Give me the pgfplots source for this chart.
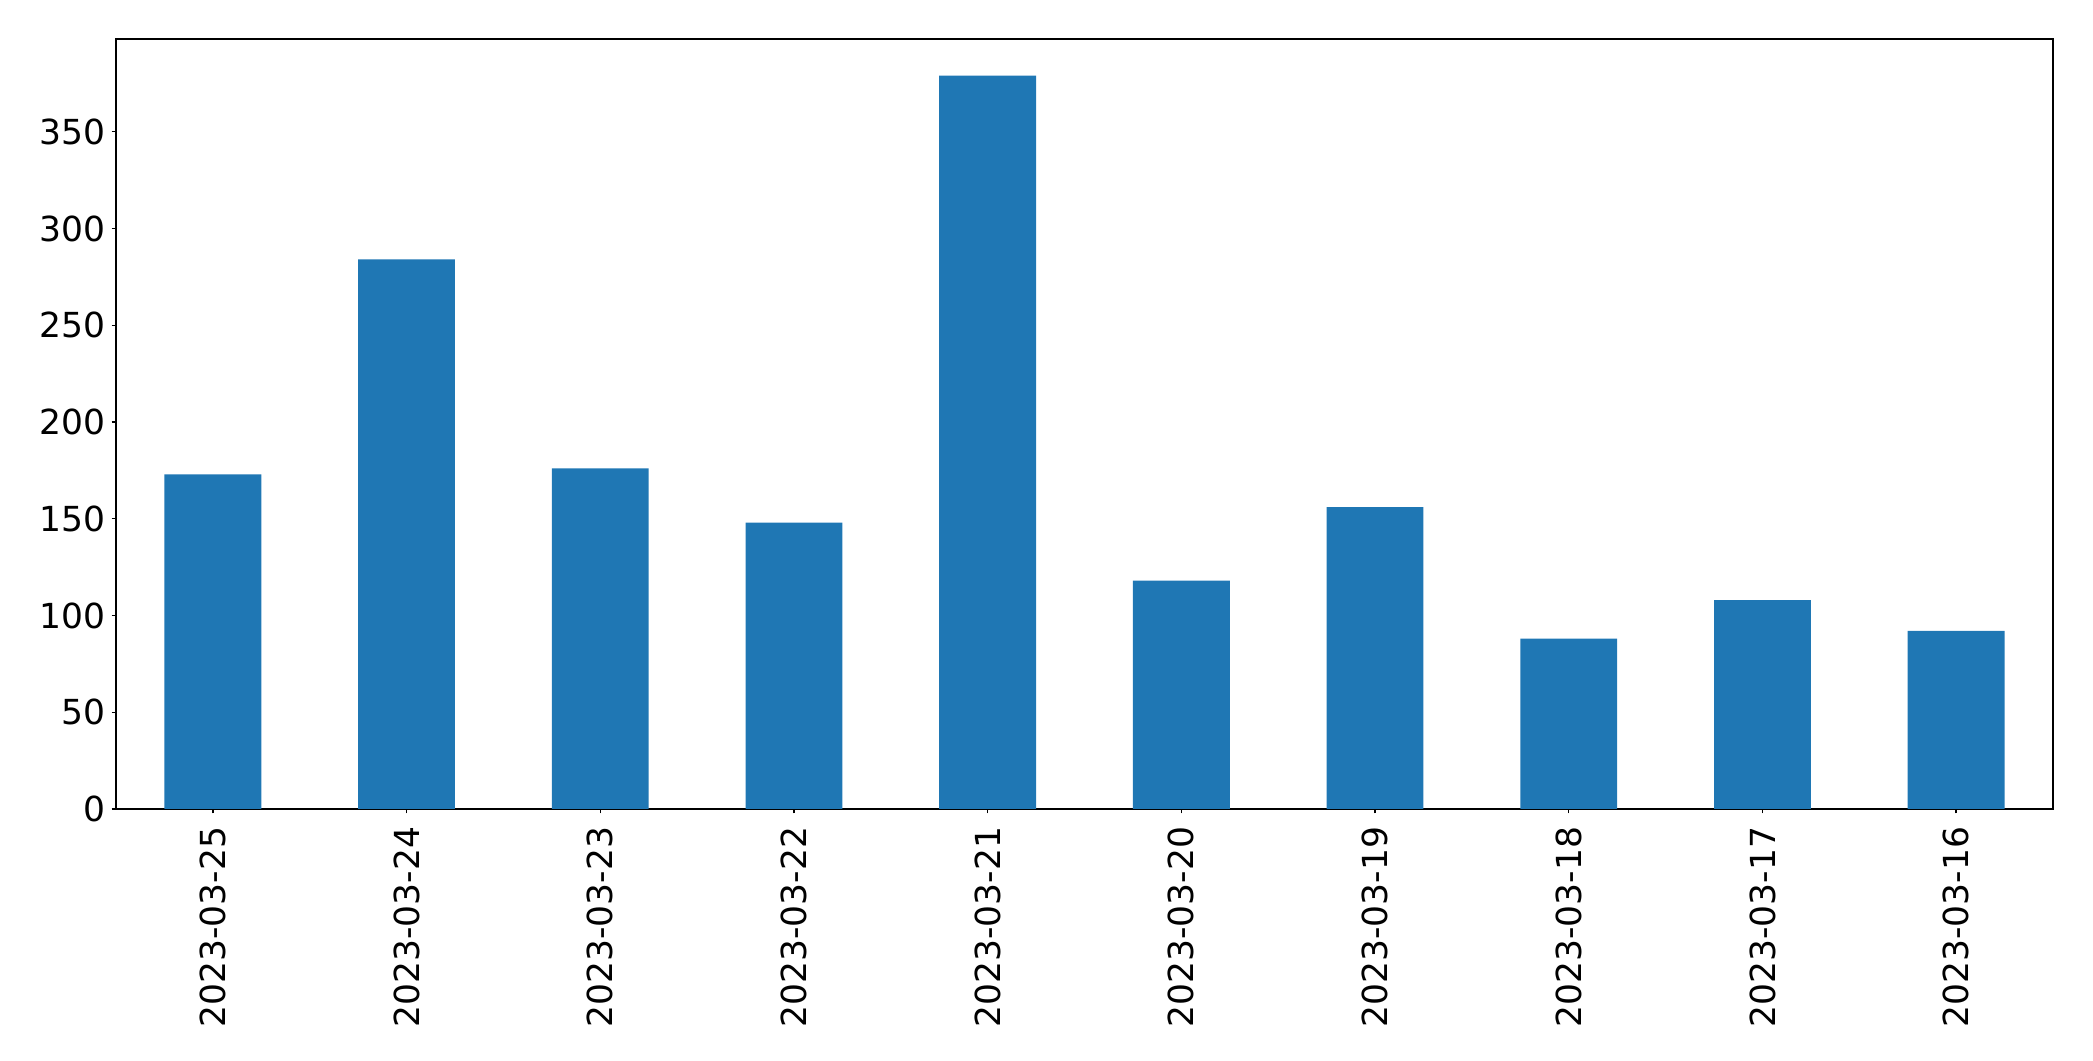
\documentclass[border=0pt]{standalone}
\usepackage{fontspec}
\setmainfont{DejaVu Sans}
\usepackage{pgfplots}
\pgfplotsset{compat=1.18}
\definecolor{mplblue}{HTML}{1F77B4}
\begin{document}
\begin{tikzpicture}
\begin{axis}[
  scale only axis,
  width=968.5pt, height=385pt,
  xmin=-0.5, xmax=9.5, ymin=0, ymax=397.95,
  xtick={0,1,2,3,4,5,6,7,8,9},
  xticklabels={2023-03-25,2023-03-24,2023-03-23,2023-03-22,2023-03-21,2023-03-20,2023-03-19,2023-03-18,2023-03-17,2023-03-16},
  ytick={0,50,100,150,200,250,300,350},
  tick align=outside,
  xtick pos=left, ytick pos=left,
  major tick length=2.2pt,
  axis line style={line width=0.7pt},
  tick style={line width=0.7pt, black},
  /pgf/number format/assume math mode=true,
  ticklabel style={font=\fontsize{17.25}{20}\selectfont},
  xticklabel style={rotate=90, anchor=east, inner sep=0pt, xshift=-6.5pt},
  yticklabel style={anchor=east, inner sep=0pt, xshift=-3pt},
  ybar, bar width=0.5,
]
\addplot[fill=mplblue, draw=none] coordinates {
  (0,173) (1,284) (2,176) (3,148) (4,379) (5,118) (6,156) (7,88) (8,108) (9,92)
};
\end{axis}
\pgfresetboundingbox
\path ([xshift=-58pt,yshift=-126pt]current axis.south west) rectangle ([xshift=20pt,yshift=19.5pt]current axis.north east);
\end{tikzpicture}
\end{document}
